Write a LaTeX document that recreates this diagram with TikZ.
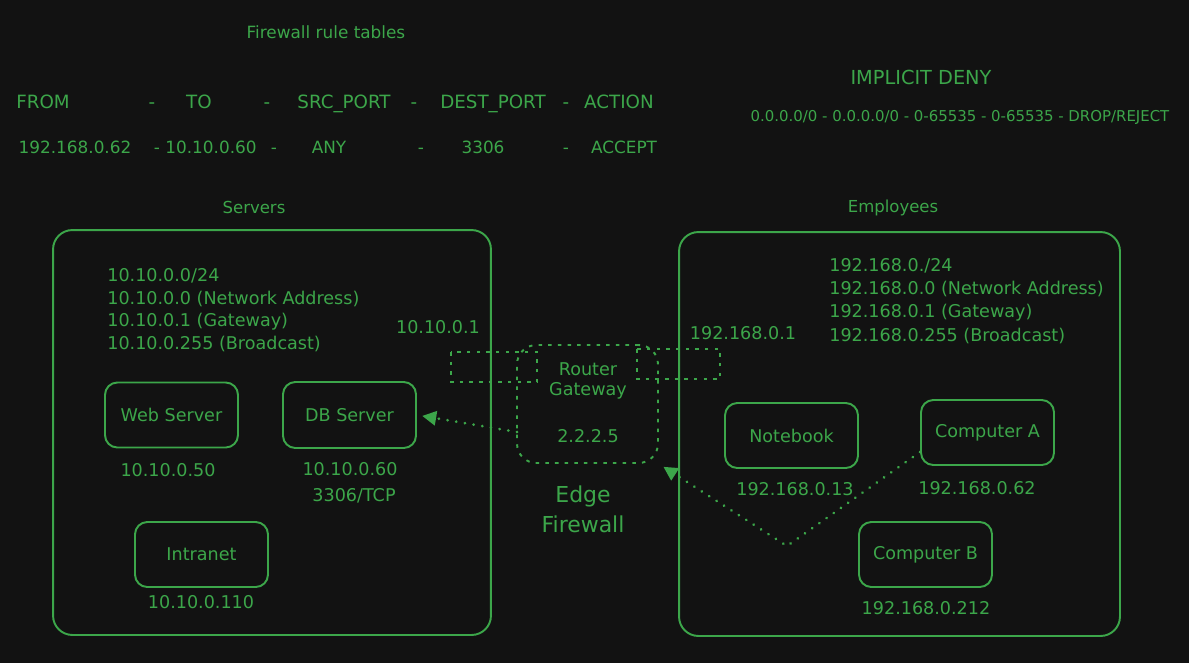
\documentclass[tikz,border=0pt]{standalone}
\usepackage{fontspec}
\setmainfont{DejaVu Sans}
\usetikzlibrary{arrows.meta}
\definecolor{bgdark}{RGB}{18,18,18}
\definecolor{fwgreen}{RGB}{60,166,74}
\def\fsz#1{\fontsize{#1}{#1}\selectfont}
\tikzset{
	lbl/.style={text=fwgreen, inner sep=0pt, font=\fsz{10}},
	cell/.style={lbl, font=\fsz{10.4}, text height=7.6pt, text depth=0pt},
	zone/.style={draw=fwgreen, line width=1.1pt, rounded corners=11pt},
	host/.style={draw=fwgreen, line width=1.1pt, rounded corners=7pt, minimum width=2.66cm, minimum height=1.3cm, text=fwgreen, font=\fsz{10}},
	dashbox/.style={draw=fwgreen, line width=1.1pt, dash pattern=on 2pt off 3.5pt},
	flow/.style={draw=fwgreen, line width=1.7pt, line cap=round, dash pattern=on 0.01pt off 5pt, -{Triangle[length=8pt,width=8pt,fill=fwgreen]}, shorten >=3pt}
}

\begin{document}
\begin{tikzpicture}[x=0.02cm, y=-0.02cm]
		%%%%% START %%%%%
		
		\fill[bgdark] (0, 0) rectangle (1189, 663);
		
		% rule table
		\node[lbl, font=\fsz{9.6}] (title) at (326, 32) {Firewall rule tables};
		\foreach \x/\t [count=\i] in {43/FROM, 152/-, 199/TO, 267/-, 344/SRC\_PORT, 414/-, 493/DEST\_PORT, 566/-, 619/ACTION}
			\node[cell] (hd\i) at (\x, 102) {\t};
		\foreach \x/\t [count=\i] in {75/192.168.0.62, 157/-, 211/10.10.0.60, 274/-, 329/ANY, 421/-, 483/3306, 566/-, 624/ACCEPT}
			\node[cell, font=\fsz{9.6}] (rw\i) at (\x, 147) {\t};
		
		\node[lbl, font=\fsz{11}] (deny) at (921, 77) {IMPLICIT DENY};
		\node[lbl, font=\fsz{8.5}] (denyrule) at (960, 117) {0.0.0.0/0 - 0.0.0.0/0 - 0-65535 - 0-65535 - DROP/REJECT};
		
		% servers
		\node[lbl, font=\fsz{9.4}] (srvtitle) at (254, 207) {Servers};
		\node[zone, minimum width=8.76cm, minimum height=8.1cm] (servers) at (272, 432.5) {};
		\foreach \t [count=\i] in {10.10.0.0/24, 10.10.0.0 (Network Address), 10.10.0.1 (Gateway), 10.10.0.255 (Broadcast)}
			\node[lbl, anchor=west] (srvnet\i) at (107, 253.5+22.7*\i) {\t};
		\node[lbl] (srvgw) at (438, 327) {10.10.0.1};
		
		\node[host] (web) at (171.5, 415) {Web Server};
		\node[host, minimum height=1.32cm] (db) at (349.5, 415) {DB Server};
		\node[host] (intranet) at (201.5, 554.5) {Intranet};
		\node[lbl] (webip) at (168, 470) {10.10.0.50};
		\node[lbl] (dbip) at (350, 469) {10.10.0.60};
		\node[lbl] (dbport) at (354, 496) {3306/TCP};
		\node[lbl] (intraip) at (201, 602) {10.10.0.110};
		
		% edge firewall
		\draw[dashbox] (451, 352) rectangle (537, 382);
		\draw[dashbox] (637, 349) rectangle (720, 379);
		\node[dashbox, rounded corners=11pt, minimum width=2.82cm, minimum height=2.36cm] (router) at (587.5, 404) {};
		\node[lbl] (rt1) at (588, 369) {Router};
		\node[lbl] (rt2) at (588, 391) {Gateway};
		\node[lbl] (rtip) at (588, 436) {2.2.2.5};
		\node[lbl, font=\fsz{12.5}] (edge1) at (583, 496) {Edge};
		\node[lbl, font=\fsz{12.5}] (edge2) at (583, 524) {Firewall};
		
		% employees
		\node[lbl, font=\fsz{9.4}] (emptitle) at (893, 208) {Employees};
		\node[zone, minimum width=8.82cm, minimum height=8.08cm] (employees) at (899.5, 434) {};
		\foreach \t [count=\i] in {192.168.0./24, 192.168.0.0 (Network Address), 192.168.0.1 (Gateway), 192.168.0.255 (Broadcast)}
			\node[lbl, anchor=west] (empnet\i) at (829, 242.5+23.3*\i) {\t};
		\node[lbl] (empgw) at (743, 333) {192.168.0.1};
		
		\node[host] (notebook) at (791.5, 435.5) {Notebook};
		\node[host] (compa) at (987.5, 432.5) {Computer A};
		\node[host] (compb) at (925.5, 554.5) {Computer B};
		\node[lbl] (nbip) at (795, 489) {192.168.0.13};
		\node[lbl] (caip) at (977, 488) {192.168.0.62};
		\node[lbl] (cbip) at (926, 608) {192.168.0.212};
		
		% allowed traffic
		\coordinate (rtin) at (517, 432);
		\coordinate (caout) at (920, 452);
		\coordinate (bend) at (787, 546);
		\draw[flow] (rtin) -- (db.east);
		\draw[flow] (caout) -- (bend) -- (router.south east);
		
		%%%%% END %%%%%
\end{tikzpicture}
\end{document}
